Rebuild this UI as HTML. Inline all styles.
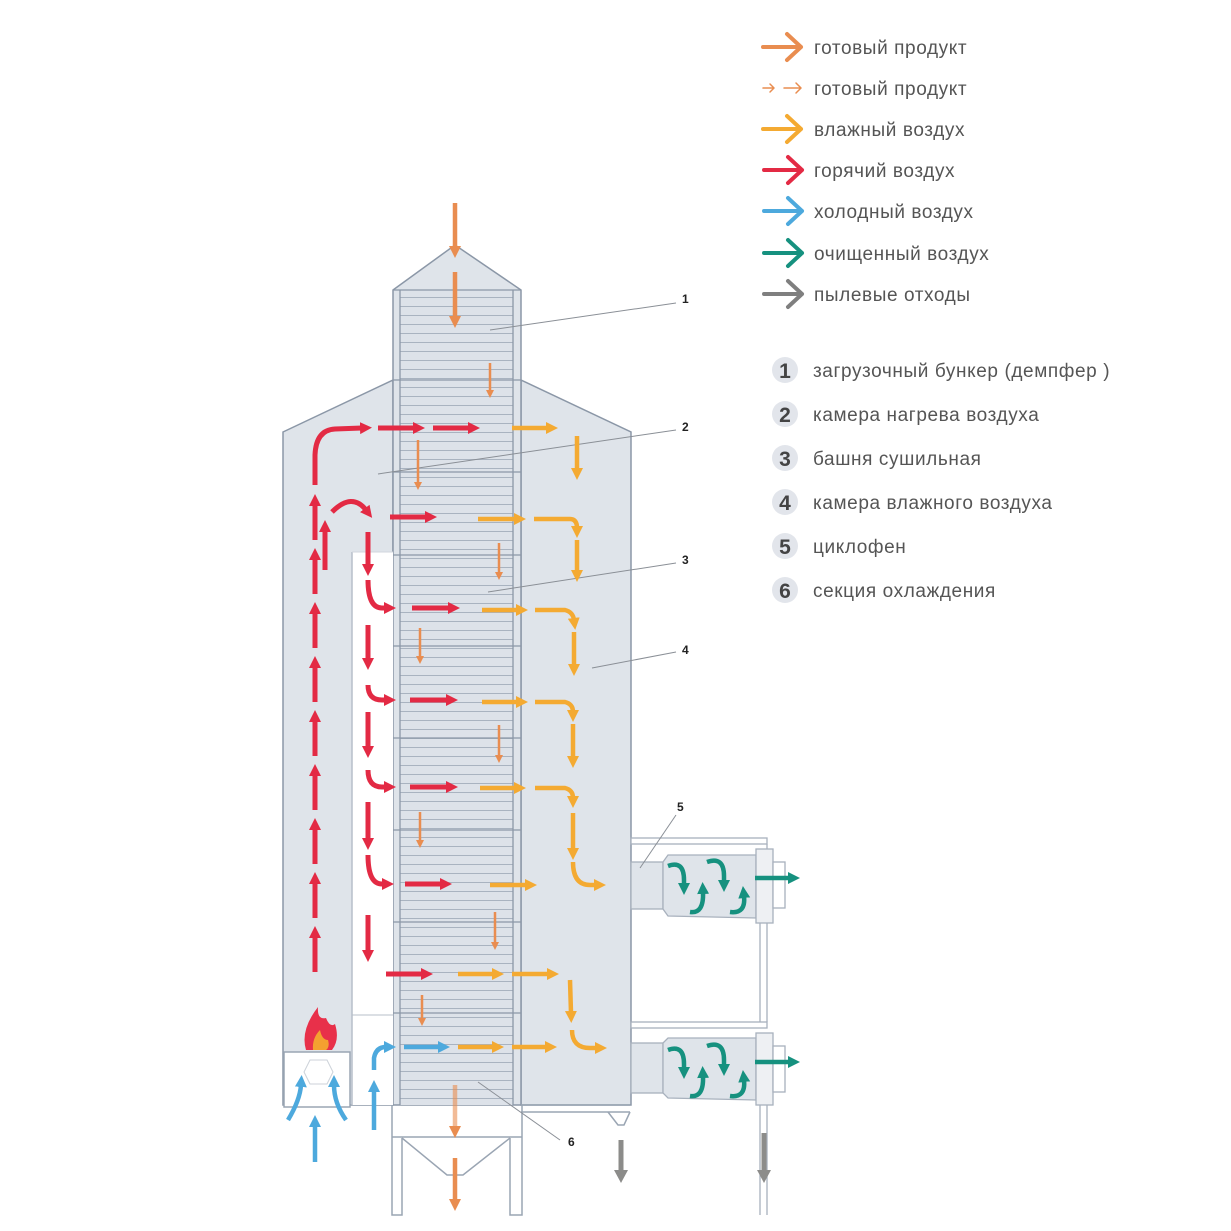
<!DOCTYPE html>
<html><head><meta charset="utf-8"><style>
html,body{margin:0;padding:0;background:#fff}
svg{display:block}
text{font-family:"Liberation Sans",sans-serif}
</style></head><body>
<svg width="1231" height="1231" viewBox="0 0 1231 1231" xmlns="http://www.w3.org/2000/svg">
<defs>
<pattern id="str" x="0" y="0" width="10" height="9" patternUnits="userSpaceOnUse">
<rect width="10" height="9" fill="#dde2e9"/><line x1="0" y1="0.5" x2="10" y2="0.5" stroke="#a9b3c0" stroke-width="1"/>
</pattern>
<marker id="mr" markerUnits="userSpaceOnUse" markerWidth="14" markerHeight="14" refX="2" refY="7" orient="auto"><path d="M0,1 L12,7 L0,13z" fill="#e32a44"/></marker>
<marker id="my" markerUnits="userSpaceOnUse" markerWidth="14" markerHeight="14" refX="2" refY="7" orient="auto"><path d="M0,1 L12,7 L0,13z" fill="#f4aa32"/></marker>
<marker id="mo" markerUnits="userSpaceOnUse" markerWidth="14" markerHeight="14" refX="2" refY="7" orient="auto"><path d="M0,1 L12,7 L0,13z" fill="#e98d50"/></marker>
<marker id="mos" markerUnits="userSpaceOnUse" markerWidth="10" markerHeight="10" refX="2" refY="5" orient="auto"><path d="M0,1 L8,5 L0,9z" fill="#e98d50"/></marker>
<marker id="mb" markerUnits="userSpaceOnUse" markerWidth="14" markerHeight="14" refX="2" refY="7" orient="auto"><path d="M0,1 L12,7 L0,13z" fill="#4da9dd"/></marker>
<marker id="mt" markerUnits="userSpaceOnUse" markerWidth="14" markerHeight="14" refX="2" refY="7" orient="auto"><path d="M0,1 L12,7 L0,13z" fill="#16917f"/></marker>
<marker id="mg" markerUnits="userSpaceOnUse" markerWidth="16" markerHeight="16" refX="2" refY="8" orient="auto"><path d="M0,1 L13,8 L0,15z" fill="#8c8c8a"/></marker>
</defs>

<g stroke="#8b97a7" stroke-width="1.5" fill="#dfe4ea">
<polygon points="283,432 393,380 393,1105 283,1105"/>
<polygon points="521,380 631,432 631,1105 521,1105"/>
<polygon points="393,290 455,245 521,290 521,1105 393,1105"/>
</g>
<rect x="352" y="552" width="41" height="553" fill="#fff"/>
<line x1="352" y1="552" x2="352" y2="1105" stroke="#b7bfca" stroke-width="1.5"/>
<line x1="352" y1="552" x2="393" y2="552" stroke="#d0d6dd" stroke-width="1"/>
<line x1="352" y1="1015" x2="393" y2="1015" stroke="#b7bfca" stroke-width="1"/>
<rect x="400" y="290" width="113" height="815" fill="url(#str)"/>
<g stroke="#8b97a7" stroke-width="1.3" fill="none">
<line x1="400" y1="290" x2="400" y2="1105"/><line x1="513" y1="290" x2="513" y2="1105"/>
<line x1="393" y1="290" x2="521" y2="290"/><line x1="393" y1="380" x2="521" y2="380"/>
<line x1="393" y1="472" x2="521" y2="472"/><line x1="393" y1="555" x2="521" y2="555"/>
<line x1="393" y1="646" x2="521" y2="646"/><line x1="393" y1="738" x2="521" y2="738"/>
<line x1="393" y1="830" x2="521" y2="830"/><line x1="393" y1="922" x2="521" y2="922"/>
<line x1="393" y1="1013" x2="521" y2="1013"/>
</g>
<rect x="284" y="1052" width="66" height="55" fill="#fff" stroke="#9aa5b3" stroke-width="1.5"/>
<polygon points="310,1060 327,1060 333,1072 327,1084 310,1084 304,1072" fill="#fff" stroke="#ccd2d9"/>
<g stroke="#9aa5b3" stroke-width="1.5" fill="none">
<polyline points="392,1105 392,1215 402,1215 402,1138"/>
<polyline points="522,1105 522,1215 510,1215 510,1138"/>
<line x1="392" y1="1137" x2="522" y2="1137"/>
<polyline points="402,1138 447,1175 463,1175 510,1138"/>
<line x1="521" y1="1105" x2="630" y2="1105"/><line x1="521" y1="1112" x2="630" y2="1112"/>
<polyline points="608,1112 618,1125 624,1125 630,1112"/>
</g>
<g stroke="#a8b1bd" stroke-width="1.3" fill="#dfe4ea">
<rect x="631" y="838" width="136" height="6" fill="#fff"/>
<rect x="631" y="1022" width="136" height="6" fill="#fff"/>
<line x1="767" y1="844" x2="767" y2="1022"/><line x1="760" y1="920" x2="760" y2="1022"/>
<line x1="767" y1="1100" x2="767" y2="1215" /><line x1="760" y1="1100" x2="760" y2="1215"/>
<rect x="631" y="862" width="32" height="47"/>
<polygon points="663,862 668,855 756,855 756,918 668,916 663,909"/>
<rect x="756" y="849" width="17" height="74" fill="#eef0f3"/>
<rect x="773" y="862" width="12" height="46" fill="#fff"/>
<rect x="631" y="1043" width="32" height="50"/>
<polygon points="663,1043 668,1038 756,1038 756,1100 668,1098 663,1093"/>
<rect x="756" y="1033" width="17" height="72" fill="#eef0f3"/>
<rect x="773" y="1046" width="12" height="46" fill="#fff"/>
</g>

<g stroke="#8a8f96" stroke-width="1" fill="none">
<line x1="490" y1="330" x2="676" y2="303"/>
<line x1="378" y1="474" x2="676" y2="430"/>
<line x1="488" y1="592" x2="676" y2="563"/>
<line x1="592" y1="668" x2="676" y2="652"/>
<line x1="640" y1="868" x2="676" y2="815"/>
<line x1="478" y1="1082" x2="560" y2="1140"/>
</g>
<g font-size="12" font-weight="bold" fill="#222">
<text x="682" y="303">1</text><text x="682" y="431">2</text><text x="682" y="564">3</text>
<text x="682" y="654">4</text><text x="677" y="811">5</text><text x="568" y="1146">6</text>
</g>

<g stroke="#e32a44" stroke-width="5" fill="none" marker-end="url(#mr)">
<line x1="315" y1="972" x2="315" y2="936"/><line x1="315" y1="918" x2="315" y2="882"/>
<line x1="315" y1="864" x2="315" y2="828"/><line x1="315" y1="810" x2="315" y2="774"/>
<line x1="315" y1="756" x2="315" y2="720"/><line x1="315" y1="702" x2="315" y2="666"/>
<line x1="315" y1="648" x2="315" y2="612"/><line x1="315" y1="594" x2="315" y2="558"/>
<line x1="315" y1="540" x2="315" y2="504"/>
<path d="M315,485 L315,455 Q316,430 335,429 L362,428"/>
<line x1="378" y1="428" x2="415" y2="428"/><line x1="433" y1="428" x2="470" y2="428"/>
<line x1="325" y1="570" x2="325" y2="530"/>
<path d="M332,512 Q352,492 366,510"/>
<line x1="390" y1="517" x2="427" y2="517"/>
<line x1="368" y1="532" x2="368" y2="566"/>
<path d="M368,580 Q368,608 382,608 L386,608"/>
<line x1="412" y1="608" x2="450" y2="608"/>
<line x1="368" y1="625" x2="368" y2="660"/>
<path d="M368,685 Q368,700 382,700 L386,700"/>
<line x1="410" y1="700" x2="448" y2="700"/>
<line x1="368" y1="712" x2="368" y2="748"/>
<path d="M368,770 Q368,787 382,787 L386,787"/>
<line x1="410" y1="787" x2="448" y2="787"/>
<line x1="368" y1="802" x2="368" y2="840"/>
<path d="M368,855 Q368,884 382,884 L384,884"/>
<line x1="405" y1="884" x2="442" y2="884"/>
<line x1="368" y1="915" x2="368" y2="952"/>
<line x1="386" y1="974" x2="423" y2="974"/>
</g>

<g stroke="#f4aa32" stroke-width="4.5" fill="none" marker-end="url(#my)">
<line x1="512" y1="428" x2="548" y2="428"/><line x1="577" y1="436" x2="577" y2="470"/>
<line x1="478" y1="519" x2="516" y2="519"/><path d="M534,519 L570,519 Q577,519 577,528"/>
<line x1="577" y1="540" x2="577" y2="572"/>
<line x1="482" y1="610" x2="518" y2="610"/><path d="M535,610 L565,610 Q573,612 574,620"/>
<line x1="574" y1="632" x2="574" y2="666"/>
<line x1="482" y1="702" x2="518" y2="702"/><path d="M535,702 L565,702 Q573,704 573,712"/>
<line x1="573" y1="724" x2="573" y2="758"/>
<line x1="480" y1="788" x2="516" y2="788"/><path d="M535,788 L565,788 Q573,790 573,798"/>
<line x1="573" y1="813" x2="573" y2="850"/>
<line x1="490" y1="885" x2="527" y2="885"/><path d="M573,862 Q573,885 590,885 L596,885"/>
<line x1="458" y1="974" x2="494" y2="974"/><line x1="512" y1="974" x2="549" y2="974"/>
<line x1="570" y1="980" x2="571" y2="1013"/>
<path d="M572,1030 Q572,1048 590,1048 L597,1048"/>
<line x1="458" y1="1047" x2="494" y2="1047"/><line x1="512" y1="1047" x2="547" y2="1047"/>
</g>
<g stroke="#4da9dd" stroke-width="4.5" fill="none" marker-end="url(#mb)">
<line x1="404" y1="1047" x2="440" y2="1047"/>
<path d="M374,1070 L374,1058 Q376,1047 386,1047"/>
<line x1="374" y1="1130" x2="374" y2="1090"/>
<path d="M288,1120 Q300,1100 301,1085"/>
<path d="M346,1120 Q334,1103 334,1085"/>
<line x1="315" y1="1162" x2="315" y2="1125"/>
</g>
<g stroke="#e98d50" stroke-width="4.5" fill="none" marker-end="url(#mo)">
<line x1="455" y1="203" x2="455" y2="248"/><line x1="455" y1="272" x2="455" y2="318"/>
<line x1="455" y1="1085" x2="455" y2="1128" stroke-opacity="0.6"/>
<line x1="455" y1="1158" x2="455" y2="1201"/>
</g>
<g stroke="#e98d50" stroke-width="2.5" fill="none" marker-end="url(#mos)">
<line x1="490" y1="363" x2="490" y2="392"/><line x1="418" y1="440" x2="418" y2="484"/>
<line x1="499" y1="543" x2="499" y2="574"/><line x1="420" y1="628" x2="420" y2="658"/>
<line x1="499" y1="725" x2="499" y2="757"/><line x1="420" y1="812" x2="420" y2="842"/>
<line x1="495" y1="912" x2="495" y2="944"/><line x1="422" y1="995" x2="422" y2="1020"/>
</g>
<g stroke="#16917f" stroke-width="4.5" fill="none" marker-end="url(#mt)">
<line x1="755" y1="878" x2="790" y2="878"/><line x1="755" y1="1062" x2="790" y2="1062"/>
<path d="M668,866 Q684,860 684,880 L684,885"/>
<path d="M690,912 Q704,914 703,892"/>
<path d="M707,862 Q724,856 724,876 L724,882"/>
<path d="M730,912 Q746,914 744,896"/>
<path d="M668,1050 Q684,1044 684,1064 L684,1069"/>
<path d="M690,1096 Q704,1098 703,1076"/>
<path d="M707,1046 Q724,1040 724,1060 L724,1066"/>
<path d="M730,1096 Q746,1098 744,1080"/>
</g>
<g stroke="#8c8c8a" stroke-width="5" fill="none" marker-end="url(#mg)">
<line x1="621" y1="1140" x2="621" y2="1172"/><line x1="764" y1="1133" x2="764" y2="1172"/>
</g>
<path d="M306,1050 Q300,1030 318,1007 Q317,1020 326,1018 Q330,1028 335,1024 Q340,1040 332,1050z" fill="#e8304a"/>
<path d="M313,1050 Q312,1038 320,1030 Q322,1040 328,1040 Q330,1047 326,1050z" fill="#f4a030"/>

<g fill="none" stroke-width="4" stroke-linecap="round" stroke-linejoin="round">
<path d="M763,47 L801,47 M787,34 L801,47 L787,60" stroke="#e98d50"/>
<path d="M763,88 L774,88 M770,84 L774,88 L770,92 M784,88 L801,88 M796,83 L801,88 L796,93" stroke="#e98d50" stroke-width="1.5"/>
<path d="M763,129 L801,129 M787,116 L801,129 L787,142" stroke="#f4aa32"/>
<path d="M764,170 L802,170 M788,157 L802,170 L788,183" stroke="#e32a44"/>
<path d="M764,211 L802,211 M788,198 L802,211 L788,224" stroke="#4da9dd"/>
<path d="M764,253 L802,253 M788,240 L802,253 L788,266" stroke="#16917f"/>
<path d="M764,294 L802,294 M788,281 L802,294 L788,307" stroke="#7f7f7f"/>
</g>
<g font-size="19" fill="#555" letter-spacing="0.6">
<text x="814" y="54">готовый продукт</text>
<text x="814" y="95">готовый продукт</text>
<text x="814" y="136">влажный воздух</text>
<text x="814" y="177">горячий воздух</text>
<text x="814" y="218">холодный воздух</text>
<text x="814" y="260">очищенный воздух</text>
<text x="814" y="301">пылевые отходы</text>
</g>
<g fill="#e2e5eb">
<circle cx="785" cy="370" r="13"/><circle cx="785" cy="414" r="13"/><circle cx="785" cy="458" r="13"/>
<circle cx="785" cy="502" r="13"/><circle cx="785" cy="546" r="13"/><circle cx="785" cy="590" r="13"/>
</g>
<g font-size="21" font-weight="bold" fill="#444" text-anchor="middle">
<text x="785" y="378">1</text><text x="785" y="422">2</text><text x="785" y="466">3</text>
<text x="785" y="510">4</text><text x="785" y="554">5</text><text x="785" y="598">6</text>
</g>
<g font-size="19" fill="#555" letter-spacing="0.6">
<text x="813" y="377">загрузочный бункер (демпфер )</text>
<text x="813" y="421">камера нагрева воздуха</text>
<text x="813" y="465">башня сушильная</text>
<text x="813" y="509">камера влажного воздуха</text>
<text x="813" y="553">циклофен</text>
<text x="813" y="597">секция охлаждения</text>
</g>
</svg>
</body></html>
